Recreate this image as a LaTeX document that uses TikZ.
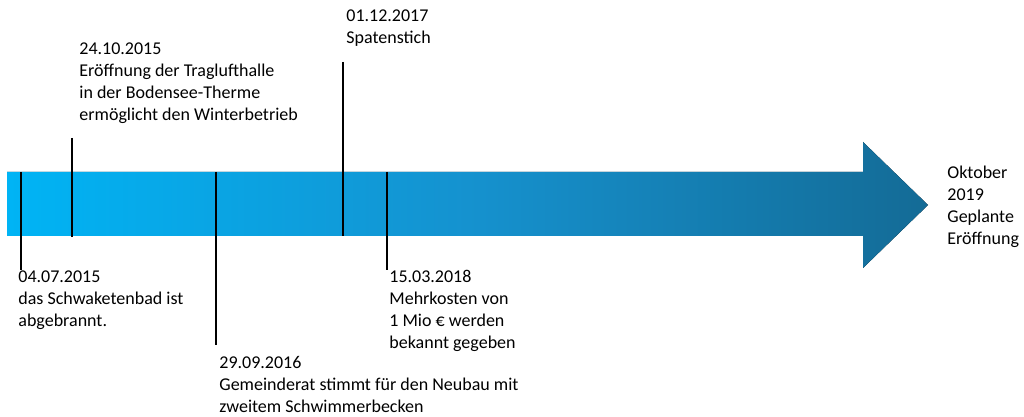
\documentclass[tikz,border=0pt]{standalone}
\usepackage{fontspec}
\setmainfont{Carlito}
\definecolor{arrowleft}{HTML}{00B4F5}
\definecolor{arrowmid}{HTML}{1592CF}
\definecolor{arrowright}{HTML}{146B96}
\tikzset{
  event/.style={anchor=north west, inner sep=0pt, align=left,
    font=\fontsize{9}{11}\selectfont},
  tick/.style={line width=1pt, black},
}
\begin{document}
\begin{tikzpicture}[x=0.5pt,y=0.5pt]
  \useasboundingbox (0,0) rectangle (1024,417);

  % the time arrow
  \fill[left color=arrowleft, right color=arrowright, middle color=arrowmid]
    (7,181) -- (863,181) -- (863,149) -- (928,212) -- (863,275)
    -- (863,245) -- (7,245) -- cycle;

  % events
  \node[event] (brand)  at (18,147)  {04.07.2015\\das Schwaketenbad ist\\abgebrannt.};
  \node[event] (halle)  at (79,375)  {24.10.2015\\Eröffnung der Traglufthalle\\in der Bodensee-Therme\\ermöglicht den Winterbetrieb};
  \node[event] (rat)    at (219,61)  {29.09.2016\\Gemeinderat stimmt für den Neubau mit\\zweitem Schwimmerbecken};
  \node[event] (stich)  at (346,408) {01.12.2017\\Spatenstich};
  \node[event] (kosten) at (389,147) {15.03.2018\\Mehrkosten von\\1 Mio € werden\\bekannt gegeben};
  \node[event] (ende)   at (947,251) {Oktober\\2019\\Geplante\\Eröffnung};

  % ticks
  \coordinate (brandtop)  at (21,245);
  \coordinate (halletop)  at (72,279);
  \coordinate (hallebot)  at (72,180);
  \coordinate (rattop)    at (216,245);
  \coordinate (ratbot)    at (216,72);
  \coordinate (stichtop)  at (343,355);
  \coordinate (stichbot)  at (343,181);
  \coordinate (kostentop) at (387,245);
  \draw[tick] (brandtop) -- (brandtop |- brand.north);
  \draw[tick] (halletop) -- (hallebot);
  \draw[tick] (rattop) -- (ratbot);
  \draw[tick] (stichtop) -- (stichbot);
  \draw[tick] (kostentop) -- (kostentop |- kosten.north);
\end{tikzpicture}
\end{document}
